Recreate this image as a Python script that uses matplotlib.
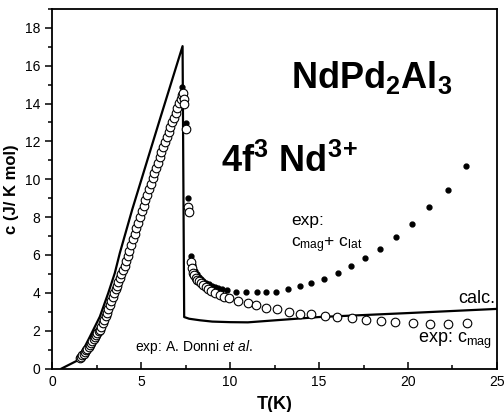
import numpy as np
import matplotlib
matplotlib.use('Agg')
import matplotlib.pyplot as plt
from matplotlib.ticker import MultipleLocator

plt.rcParams['font.family'] = 'Liberation Sans'
plt.rcParams['mathtext.fontset'] = 'custom'
plt.rcParams['mathtext.rm'] = 'Liberation Sans'
plt.rcParams['mathtext.it'] = 'Liberation Sans:italic'
plt.rcParams['mathtext.bf'] = 'Liberation Sans:bold'
plt.rcParams['mathtext.default'] = 'regular'

# calculated curve
T_calc = [0.53, 1.37, 1.70, 2.12, 2.68, 3.15, 3.52, 3.80, 4.50, 6.05, 7.33,
          7.42, 7.70, 8.30, 9.00, 10.0, 11.0, 15.0, 20.0, 25.0]
c_calc = [0.0, 0.40, 0.90, 1.68, 2.74, 3.98, 5.04, 6.09, 8.40, 13.15, 17.03,
          2.72, 2.63, 2.55, 2.48, 2.45, 2.44, 2.72, 2.93, 3.15]

# exp: c_mag (open circles)
T_mag = [1.56, 1.63, 1.70, 1.77, 1.84, 1.91, 1.98, 2.05, 2.12, 2.19, 2.26, 2.33,
         2.40, 2.47, 2.54, 2.61, 2.68, 2.76, 2.84, 2.92, 3.00, 3.08, 3.16, 3.24,
         3.32, 3.40, 3.48, 3.56, 3.64, 3.72, 3.80, 3.89, 3.98, 4.07, 4.16, 4.25,
         4.34, 4.44, 4.54, 4.64, 4.74, 4.84, 4.94, 5.04, 5.14, 5.24, 5.34, 5.44,
         5.54, 5.64, 5.74, 5.84, 5.94, 6.04, 6.14, 6.24, 6.34, 6.44, 6.54, 6.64,
         6.74, 6.84, 6.94, 7.04, 7.14, 7.22, 7.30, 7.37, 7.42, 7.40,
         7.55, 7.66, 7.69, 7.80, 7.86, 7.92, 7.98, 8.06, 8.15, 8.25, 8.36, 8.48,
         8.62, 8.78, 8.95, 9.15, 9.42, 9.68, 9.94, 10.45, 10.98, 11.45, 12.04,
         12.64, 13.30, 13.93, 14.57, 15.32, 16.03, 16.87, 17.66, 18.46, 19.29,
         20.28, 21.22, 22.25, 23.31]
c_mag = [0.54, 0.62, 0.70, 0.78, 0.87, 0.96, 1.05, 1.14, 1.24, 1.33, 1.44, 1.55,
         1.66, 1.76, 1.86, 1.96, 2.06, 2.22, 2.40, 2.58, 2.77, 2.96, 3.16, 3.36,
         3.57, 3.77, 3.98, 4.18, 4.38, 4.57, 4.76, 4.97, 5.19, 5.41, 5.68, 5.94,
         6.22, 6.52, 6.82, 7.12, 7.42, 7.71, 8.00, 8.30, 8.59, 8.88, 9.18, 9.47,
         9.76, 10.04, 10.32, 10.60, 10.88, 11.16, 11.44, 11.70, 11.96, 12.22, 12.48, 12.74,
         13.00, 13.26, 13.52, 13.78, 14.04, 14.26, 14.45, 14.55, 14.25, 13.95,
         12.65, 8.55, 8.25, 5.65, 5.30, 5.05, 4.92, 4.80, 4.70, 4.60, 4.50, 4.40,
         4.30, 4.20, 4.10, 3.98, 3.88, 3.79, 3.70, 3.58, 3.45, 3.33, 3.22,
         3.13, 2.99, 2.90, 2.87, 2.77, 2.72, 2.66, 2.56, 2.53, 2.48,
         2.42, 2.35, 2.33, 2.40]

# exp: c_mag + c_lat (filled dots)
T_tot = [7.30, 7.55, 7.65, 7.82, 7.92, 8.02, 8.12, 8.24, 8.36, 8.50, 8.64, 8.80,
         8.96, 9.14, 9.34, 9.55, 9.80, 10.36, 10.92, 11.52, 12.04, 12.60, 13.26,
         13.91, 14.57, 15.28, 16.07, 16.78, 17.60, 18.41, 19.31, 20.22, 21.18,
         22.25, 23.24]
c_tot = [14.85, 12.97, 9.00, 5.95, 5.45, 5.15, 4.98, 4.85, 4.72, 4.62, 4.52, 4.44,
         4.37, 4.31, 4.25, 4.20, 4.15, 4.06, 4.03, 4.03, 4.03, 4.06, 4.19,
         4.35, 4.50, 4.72, 5.04, 5.39, 5.85, 6.34, 6.94, 7.65, 8.54,
         9.43, 10.68]

fig = plt.figure(figsize=(5.04, 4.12), dpi=100)
ax = fig.add_axes([0.1035, 0.1055, 0.8825, 0.873])

ax.plot(T_calc, c_calc, color='black', lw=1.6, zorder=2)
ax.plot(T_tot, c_tot, 'o', color='black', ms=3.5, zorder=3)
ax.plot(T_mag, c_mag, 'o', mfc='white', mec='black', mew=0.8, ms=6.2, zorder=4)

ax.set_xlim(0, 25)
ax.set_ylim(0, 19)
ax.xaxis.set_major_locator(MultipleLocator(5))
ax.xaxis.set_minor_locator(MultipleLocator(2.5))
ax.yaxis.set_major_locator(MultipleLocator(2))
ax.yaxis.set_minor_locator(MultipleLocator(1))
ax.tick_params(axis='x', which='major', direction='in', length=5, width=1.1, labelsize=10, pad=5)
ax.tick_params(axis='x', which='minor', direction='in', length=3, width=1.1)
ax.tick_params(axis='y', which='major', direction='out', length=5, width=1.1, labelsize=10)
ax.tick_params(axis='y', which='minor', direction='out', length=3, width=1.1)
for s in ax.spines.values():
    s.set_linewidth(1.3)

ax.set_xlabel('T(K)', fontsize=13, fontweight='bold', labelpad=5)
ax.set_ylabel('c (J/ K mol)', fontsize=12, fontweight='bold', labelpad=4)

ax.text(13.4, 14.8, r'NdPd$_2$Al$_3$', fontsize=26, fontweight='bold', va='baseline')
ax.text(9.5, 10.4, r'4f$^3$ Nd$^{3}{}^{+}$', fontsize=26, fontweight='bold', va='baseline')
ax.text(13.45, 7.8, 'exp:', fontsize=12.5, va='center')
ax.text(13.45, 6.5, r'c$_{mag}$+ c$_{lat}$', fontsize=12.5, va='center')
ax.text(24.9, 3.7, 'calc.', fontsize=13, va='center', ha='right')
ax.text(20.55, 1.45, r'exp: c$_{mag}$', fontsize=13, va='center')
ax.text(4.66, 1.13, r'exp: A. Donni $\mathit{et\ al.}$', fontsize=10, va='center')

fig.savefig('out.png', dpi=100)
